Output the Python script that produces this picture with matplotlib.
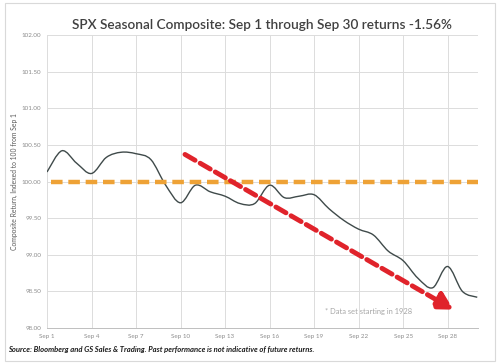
import numpy as np
import matplotlib.pyplot as plt
from matplotlib.path import Path
from matplotlib.patches import PathPatch, Rectangle

plt.rcParams['font.family'] = ['Lato', 'DejaVu Sans']

# data
days = np.arange(1, 31)
composite = [100.13, 100.42, 100.25, 100.11, 100.33, 100.40, 100.38, 100.30, 99.95, 99.71,
             99.95, 99.86, 99.80, 99.70, 99.70, 99.95, 99.78, 99.80, 99.82, 99.63,
             99.47, 99.35, 99.27, 99.05, 98.92, 98.68, 98.55, 98.84, 98.50, 98.42]
baseline = 100.0
tick_days = [1, 4, 7, 10, 13, 16, 19, 22, 25, 28]
tick_labels = ["Sep " + str(d) for d in tick_days]
y_ticks = [98.0, 98.5, 99.0, 99.5, 100.0, 100.5, 101.0, 101.5, 102.0]
arrow_from = (10.3, 100.37)
arrow_to = (28.4, 98.25)

fig = plt.figure(figsize=(5, 3.63), dpi=100)
ax = fig.add_axes([0.094, 0.0964, 0.862, 0.807])

# frame around the whole picture
fig.patches.append(Rectangle((0.01, 0.006), 0.98, 0.986, transform=fig.transFigure,
                             fill=False, edgecolor="#d9d9d9", linewidth=0.8))

# smoothed line like excel (catmull-rom as bezier curves)
x = np.asarray(days, dtype=float)
y = np.asarray(composite)
verts = [(x[0], y[0])]
codes = [Path.MOVETO]
n = len(x)
for i in range(n - 1):
    p0 = i - 1 if i > 0 else i
    p3 = i + 2 if i + 2 < n else i + 1
    c1 = (x[i] + (x[i + 1] - x[p0]) / 6, y[i] + (y[i + 1] - y[p0]) / 6)
    c2 = (x[i + 1] - (x[p3] - x[i]) / 6, y[i + 1] - (y[p3] - y[i]) / 6)
    verts += [c1, c2, (x[i + 1], y[i + 1])]
    codes += [Path.CURVE4] * 3
ax.add_patch(PathPatch(Path(verts, codes), fill=False, edgecolor="#3f4a4a", linewidth=1.0, zorder=3))

ax.plot([1.3, 30.05], [baseline, baseline], color="#eea236", linewidth=3.2,
        dashes=(2.6, 1.3), zorder=4, solid_capstyle="butt")

ax.annotate("", xy=arrow_to, xytext=arrow_from,
            arrowprops=dict(arrowstyle="-|>,head_length=1.0,head_width=0.55", color="#e0232b",
                            linewidth=3.5, linestyle=(0, (2.4, 1.2)), shrinkA=0, shrinkB=0),
            zorder=5)

ax.set_xlim(1, 30.05)
ax.set_ylim(98, 102)
ax.set_xticks(tick_days)
ax.set_xticklabels(tick_labels)
ax.set_yticks(y_ticks)
ax.set_yticklabels(["%.2f" % v for v in y_ticks])
ax.tick_params(length=0, labelsize=4.5, colors="#8c8c8c", pad=4)
ax.grid(True, color="#dcdcdc", linewidth=0.7)
ax.set_axisbelow(True)
for s in ["top", "right", "left"]:
    ax.spines[s].set_visible(False)
ax.spines["bottom"].set_color("#bfbfbf")
ax.spines["bottom"].set_linewidth(0.7)

ax.set_ylabel("Composite Return, Indexed to 100 from Sep 1", fontsize=4.9, color="#595959", labelpad=3)
fig.text(0.523, 0.932, "SPX Seasonal Composite: Sep 1 through Sep 30 returns -1.56%",
         ha="center", va="center", fontsize=9.8, fontweight="semibold", color="#404040")
ax.text(19.75, 98.22, "* Data set starting in 1928", fontsize=5.4, color="#a6a6a6", va="center")
fig.text(0.016, 0.038, "Source: Bloomberg and GS Sales & Trading. Past performance is not indicative of future returns.",
         fontsize=5.5, fontweight="bold", fontstyle="italic", color="#1a1a1a", va="center")

fig.savefig("out.png", dpi=100)
